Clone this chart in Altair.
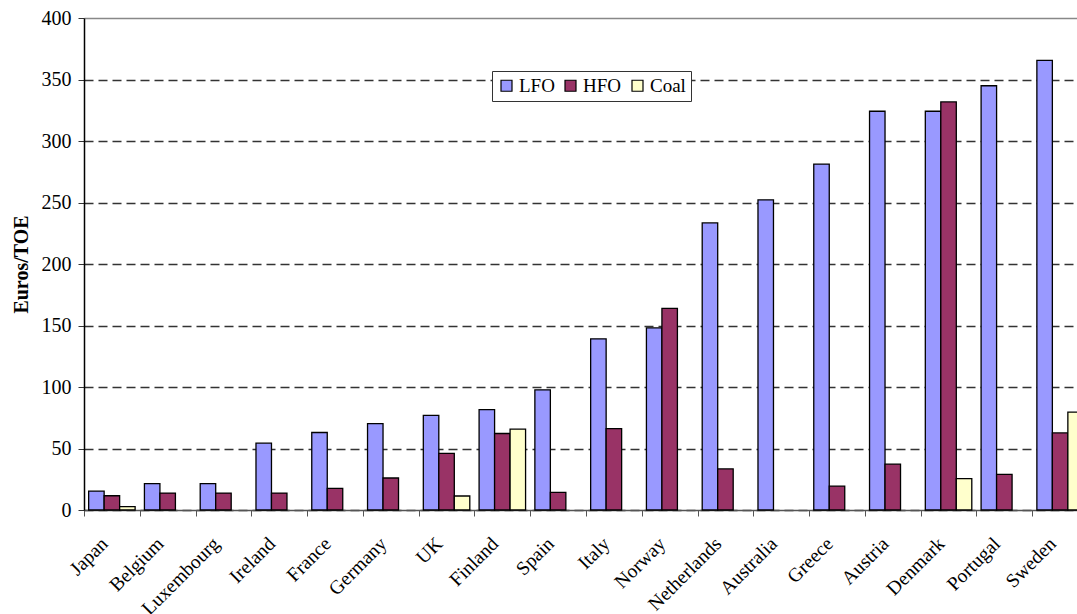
import altair as alt
import pandas as pd

countries = ["Japan", "Belgium", "Luxembourg", "Ireland", "France", "Germany", "UK",
             "Finland", "Spain", "Italy", "Norway", "Netherlands", "Australia", "Greece",
             "Austria", "Denmark", "Portugal", "Sweden"]
lfo = [15.4, 21.4, 21.4, 54.3, 63, 70.3, 77, 81.6, 97.7, 139.2, 148, 233.4, 252.2, 281.2,
       324.2, 324.2, 344.9, 365.6]
hfo = [11.6, 13.8, 13.8, 13.8, 17.6, 26, 46, 62.2, 14.4, 66.2, 164, 33.4, None, 19.4,
       37.3, 331.8, 29, 62.7]
coal = [2.7, None, None, None, None, None, 11.4, 65.7, None, None, None, None, None, None,
        None, 25.5, None, 79.6]
fuels = ["LFO", "HFO", "Coal"]
fuel_colors = ["#9999FF", "#993366", "#FFFFCC"]
y_ticks = [0, 50, 100, 150, 200, 250, 300, 350, 400]

rows = []
for i, c in enumerate(countries):
    for fuel, series in zip(fuels, [lfo, hfo, coal]):
        v = series[i]
        if v is not None:
            rows.append({"country": c, "fuel": fuel, "value": v})
df = pd.DataFrame(rows)

FONT = "Liberation Serif"

chart = alt.Chart(df).mark_bar(stroke="black", strokeWidth=1.3).encode(
    x=alt.X("country:N", sort=countries, title=None,
            scale=alt.Scale(paddingInner=0, paddingOuter=0, range=[0, 1004]),
            axis=alt.Axis(labelAngle=315, labelFont=FONT, labelFontSize=19.5,
                          labelColor="black", tickBand="extent", tickSize=6,
                          tickColor="#555", domainColor="#555", domainWidth=1.5,
                          labelPadding=18, labelOffset=-14, grid=False)),
    xOffset=alt.XOffset("fuel:N", sort=fuels,
                        scale=alt.Scale(paddingOuter=0.3, paddingInner=0)),
    y=alt.Y("value:Q", title="Euros/TOE",
            scale=alt.Scale(domain=[0, 400], nice=False),
            axis=alt.Axis(values=y_ticks, labelFont=FONT, labelFontSize=20,
                          labelColor="black", tickSize=6, tickColor="#333",
                          domainColor="black", domainWidth=1.5, labelPadding=7,
                          titleFont=FONT, titleFontSize=20, titleFontWeight="bold",
                          titleColor="black", titlePadding=10,
                          gridDash={"condition": {"test": "datum.value === 400", "value": []},
                                    "value": [9, 5]},
                          gridColor={"condition": {"test": "datum.value === 400", "value": "#888"},
                                     "value": "#333"},
                          gridWidth=1.3)),
    color=alt.Color("fuel:N", sort=fuels,
                    scale=alt.Scale(domain=fuels, range=fuel_colors),
                    legend=alt.Legend(title=None, orient="none", legendX=408, legendY=53,
                                      direction="horizontal", fillColor="white",
                                      strokeColor="#333", padding=5,
                                      symbolType="square", symbolSize=121,
                                      symbolStrokeColor="black", symbolStrokeWidth=1.2,
                                      labelFont=FONT, labelFontSize=19, labelColor="black",
                                      labelOffset=3, columnPadding=6)),
).properties(
    width=993, height=492,
    autosize=alt.AutoSizeParams(type="none"),
    padding={"left": 84, "top": 18, "right": 0, "bottom": 104},
).configure_view(stroke=None)

chart.save("out.html", embed_options={"renderer": "svg", "actions": False})
